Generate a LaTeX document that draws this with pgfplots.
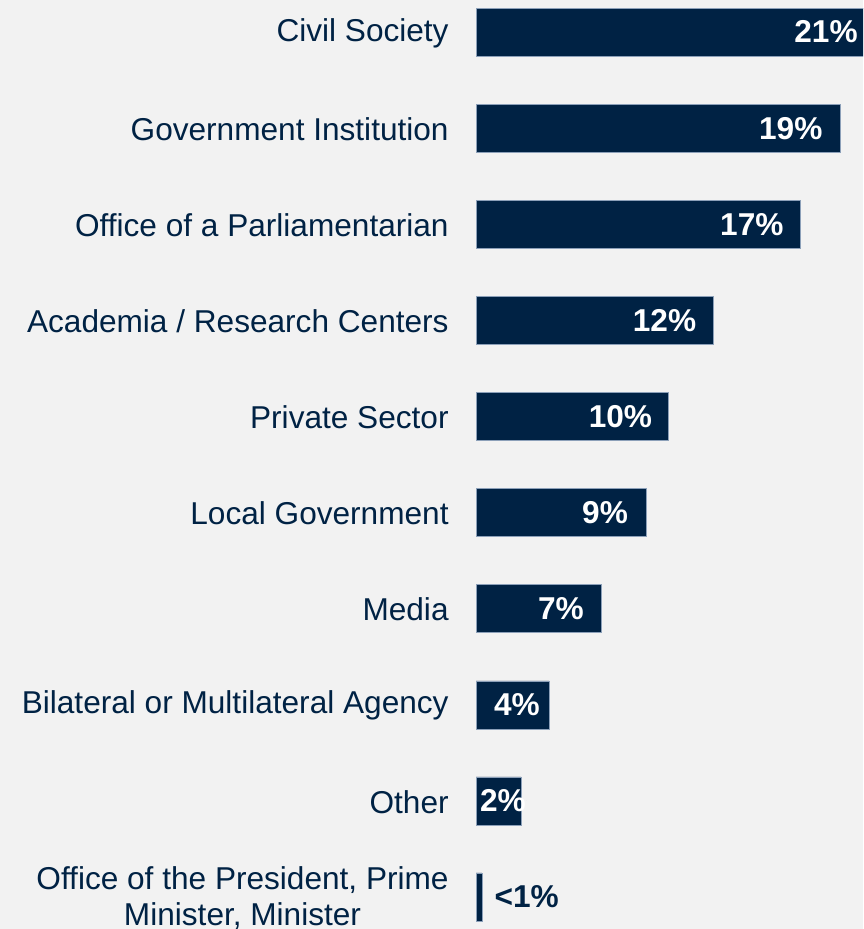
\documentclass[border=0pt]{standalone}
\usepackage{pgfplots}
\pgfplotsset{compat=1.18}
\usepackage{fontspec}
\setmainfont{Liberation Sans}
\definecolor{bg}{HTML}{F2F2F2}
\definecolor{navy}{RGB}{0,34,68}
\definecolor{edge}{RGB}{140,160,185}
\begin{document}
\begin{tikzpicture}
\fill[bg] (0,0) rectangle (431.5pt,464.5pt);
\begin{axis}[
  at={(238pt,0pt)}, anchor=south west,
  scale only axis, width=193.5pt, height=464.5pt,
  xmin=0, xmax=20.2,
  ymin=-0.3333, ymax=9.3333,
  y dir=reverse,
  axis line style={draw=none},
  xtick=\empty,
  ytick={0,...,9},
  yticklabels={Civil Society, Government Institution, Office of a Parliamentarian, Academia / Research Centers, Private Sector, Local Government, Media, Bilateral or Multilateral Agency, Other, {Office of the President, Prime\\Minister, Minister}},
  major tick length=0pt,
  yticklabel style={inner sep=0pt, xshift=-13.5pt, yshift=-0.5pt, align=center, font=\fontsize{15.8}{18}\selectfont, text=navy},
  clip=true,
]
\addplot[xbar, bar width=24pt, bar shift=0pt, fill=navy, draw=edge, line width=0.25pt] coordinates {
(21,0) (19,1) (16.95,2) (12.4,3) (10.05,4) (8.9,5) (6.54,6) (3.82,7) (2.35,8) (0.3,9)};
\addplot[only marks, mark=*, mark size=0pt, mark options={draw=none,fill=none},
  point meta=explicit symbolic, nodes near coords,
  every node near coord/.append style={anchor=east, inner sep=0pt, text=white, font=\fontsize{15.8}{18.5}\selectfont\bfseries}]
coordinates {
(19.94,0) [21\%] (18.1,1) [19\%] (16.07,2) [17\%] (11.51,3) [12\%] (9.21,4) [10\%] (7.95,5) [9\%] (5.65,6) [7\%] (3.35,7) [4\%] (2.62,8) [2\%]};
\addplot[only marks, mark=*, mark size=0pt, mark options={draw=none,fill=none},
  point meta=explicit symbolic, nodes near coords,
  every node near coord/.append style={anchor=east, inner sep=0pt, text=navy, font=\fontsize{15.8}{18.5}\selectfont\bfseries}]
coordinates {(4.34,9) [<1\%]};
\end{axis}
\pgfresetboundingbox
\useasboundingbox (0,0) rectangle (431.5pt,464.5pt);
\end{tikzpicture}
\end{document}
